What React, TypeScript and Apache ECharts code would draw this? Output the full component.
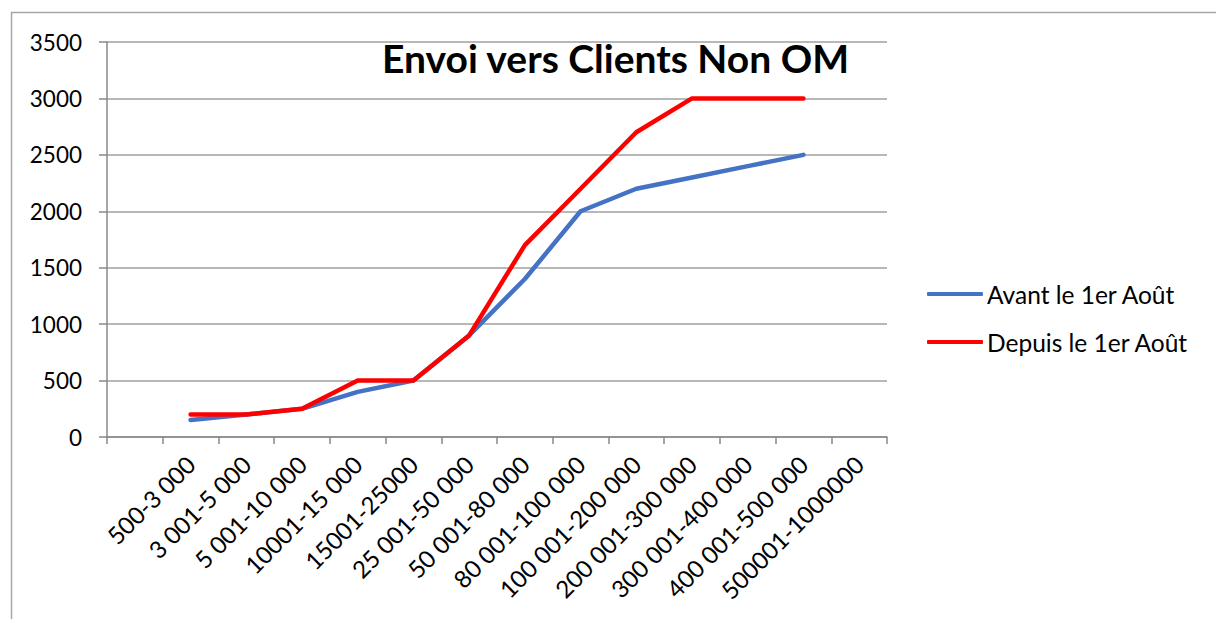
import React, { useEffect, useRef } from "react";
import * as echarts from "echarts";

const categories = [
  "",
  "500-3 000",
  "3 001-5 000",
  "5 001-10 000",
  "10001-15 000",
  "15001-25000",
  "25 001-50 000",
  "50 001-80 000",
  "80 001-100 000",
  "100 001-200 000",
  "200 001-300 000",
  "300 001-400 000",
  "400 001-500 000",
  "500001-1000000",
];

const avant = [null, 150, 200, 250, 400, 500, 900, 1400, 2000, 2200, 2300, 2400, 2500, null];
const depuis = [null, 200, 200, 250, 500, 500, 900, 1700, 2200, 2700, 3000, 3000, 3000, null];

const yTicks = { min: 0, max: 3500, interval: 500 };

const FONT = "Lato, 'Open Sans', sans-serif";

export default function App() {
  const ref = useRef<HTMLDivElement>(null);
  useEffect(() => {
    if (!ref.current) return;
    const chart = echarts.init(ref.current, null, { renderer: "svg" });
    chart.setOption({
      animation: false,
      backgroundColor: "#ffffff",
      title: {
        text: "Envoi vers Clients Non OM",
        left: 382,
        top: 38,
        padding: 0,
        textStyle: { fontFamily: FONT, fontSize: 39, fontWeight: "bold", color: "#000" },
      },
      legend: {
        orient: "vertical",
        left: 927,
        top: 281,
        padding: 0,
        itemWidth: 56,
        itemHeight: 4,
        itemGap: 22,
        icon: "roundRect",
        textStyle: { fontFamily: FONT, fontSize: 24.5, color: "#000", lineHeight: 26, padding: [0, 0, 0, -1] },
        data: [
          { name: "Avant le 1er Août", itemStyle: { color: "#4472C4" } },
          { name: "Depuis le 1er Août", itemStyle: { color: "#FF0000" } },
        ],
      },
      grid: { left: 107, right: 329, top: 42, bottom: 182, containLabel: false },
      xAxis: {
        type: "category",
        data: categories,
        boundaryGap: true,
        axisLine: { show: true, lineStyle: { color: "#888888", width: 1.5 } },
        axisTick: { show: true, alignWithLabel: false, length: 7, lineStyle: { color: "#888888", width: 1.5 }, interval: 0 },
        axisLabel: {
          interval: 0,
          rotate: 45,
          fontFamily: FONT,
          fontSize: 24,
          color: "#000",
          margin: 23,
        },
        splitLine: { show: false },
      },
      yAxis: {
        type: "value",
        min: yTicks.min,
        max: yTicks.max,
        interval: yTicks.interval,
        axisLine: { show: true, lineStyle: { color: "#888888", width: 1.5 } },
        axisTick: { show: true, length: 8, lineStyle: { color: "#888888", width: 1.5 } },
        axisLabel: {
          fontFamily: FONT,
          fontSize: 22.5,
          color: "#000",
          margin: 25,
          formatter: (v: number) => String(v),
        },
        splitLine: { show: true, lineStyle: { color: "#a0a0a0", width: 1.5 } },
      },
      series: [
        {
          name: "Avant le 1er Août",
          type: "line",
          data: avant,
          symbol: "none",
          lineStyle: { color: "#4472C4", width: 4.5, cap: "round", join: "round" },
          itemStyle: { color: "#4472C4" },
        },
        {
          name: "Depuis le 1er Août",
          type: "line",
          data: depuis,
          symbol: "none",
          lineStyle: { color: "#FF0000", width: 4.5, cap: "round", join: "round" },
          itemStyle: { color: "#FF0000" },
        },
      ],
      graphic: [
        {
          type: "rect",
          shape: { x: 11.5, y: 12.5, width: 1400, height: 800 },
          style: { fill: "none", stroke: "#a6a6a6", lineWidth: 1.5 },
          silent: true,
        },
      ],
    });
    return () => chart.dispose();
  }, []);
  return <div ref={ref} style={{ width: 1216, height: 619, position: "absolute", left: 0, top: 0 }} />;
}
